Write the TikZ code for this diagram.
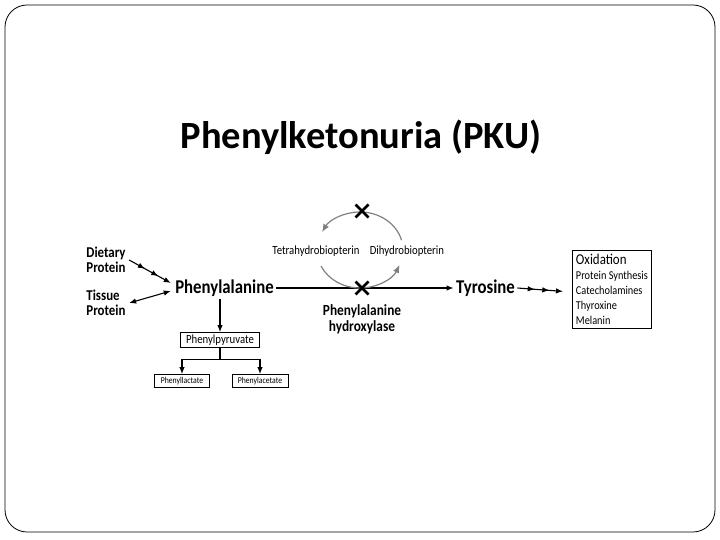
\documentclass[tikz,border=0pt]{standalone}
\usepackage{fontspec}
\setmainfont{Carlito}
\newfontfamily\condfont[FakeStretch=0.86]{Carlito}
\usetikzlibrary{arrows.meta,decorations.markings}

\begin{document}
\begin{tikzpicture}[
		x=1pt, y=-1pt,
		line width=1.1pt,
		labelfont/.style={font=\condfont\bfseries\fontsize{15}{15}\selectfont, align=left, inner sep=1pt},
		mainfont/.style={font=\condfont\bfseries\fontsize{19.5}{20}\selectfont, inner sep=2pt},
		smallfont/.style={font=\condfont\fontsize{12.5}{13}\selectfont, inner sep=1pt},
		boxnode/.style={draw, line width=0.8pt, inner sep=2pt},
		arr/.style={-{Latex[length=7pt,width=5.5pt]}},
		multiarr/.style={arr, postaction={decorate}, decoration={markings,
			mark=at position 0.38 with {\arrow{Latex[length=7pt,width=5.5pt]}},
			mark=at position 0.70 with {\arrow{Latex[length=7pt,width=5.5pt]}}}},
		cyclearc/.style={draw=gray, line width=1.2pt},
		xmark/.style={line width=2.6pt}
	]
	\useasboundingbox (0, 0) rectangle (720, 540);
	% 外框和标题
	\draw[line width=0.8pt, rounded corners=22pt] (5, 5) rectangle (715, 532);
	\node[font=\bfseries\fontsize{38.5}{40}\selectfont] (title) at (361, 137) {Phenylketonuria (PKU)};

	% 左边的来源和苯丙氨酸
	\node[labelfont] (diet) at (106, 260) {Dietary\\Protein};
	\node[labelfont] (tissue) at (106, 303) {Tissue\\Protein};
	\node[mainfont] (phe) at (224.5, 288) {Phenylalanine};
	\draw[multiarr] ([xshift=2pt]diet.east) -- ([xshift=-2pt, yshift=5pt]phe.west);
	\draw[{Latex[length=7pt,width=5.5pt]}-{Latex[length=7pt,width=5.5pt]}] ([xshift=2pt]tissue.east) -- ([xshift=-2pt, yshift=-3pt]phe.west);

	% 酪氨酸和去向
	\node[mainfont] (tyr) at (485.5, 288) {Tyrosine};
	\node[boxnode, anchor=north west, align=left, minimum width=79pt, minimum height=78pt, inner sep=1.5pt,
		font=\condfont\fontsize{12}{14.8}\selectfont] (fates) at (572, 250)
		{{\fontsize{15}{14.8}\selectfont Oxidation}\\Protein Synthesis\\Catecholamines\\Thyroxine\\Melanin};
	\draw[arr] (phe.east) -- (tyr.west);
	\draw[multiarr] (tyr.east) -- ([xshift=-9pt, yshift=-2pt]fates.west);

	% 辅酶循环
	\coordinate (cyc) at (360, 250);
	\draw[cyclearc, -{Latex[length=8pt,width=6.5pt]}] (cyc) ++(-90:43 and 38) arc[start angle=-90, end angle=-152, x radius=43, y radius=38];
	\draw[cyclearc] (cyc) ++(-205:43 and 38) arc[start angle=-205, end angle=-270, x radius=43, y radius=38];
	\draw[cyclearc, -{Latex[length=8pt,width=6.5pt]}] (cyc) ++(-270:43 and 38) arc[start angle=-270, end angle=-337, x radius=43, y radius=38];
	\draw[cyclearc] (cyc) ++(-15:43 and 38) arc[start angle=-15, end angle=-90, x radius=43, y radius=38];
	\node[smallfont] (thb) at (316, 251) {Tetrahydrobiopterin};
	\node[smallfont] (dhb) at (407, 251) {Dihydrobiopterin};

	% 两个叉号和酶
	\coordinate (xtop) at (362, 211);
	\coordinate (xbot) at (362, 288);
	\foreach \c in {xtop, xbot} {
		\draw[xmark] ([xshift=-6.5pt, yshift=6.5pt]\c) -- ([xshift=6.5pt, yshift=-6.5pt]\c);
		\draw[xmark] ([xshift=-6.5pt, yshift=-6.5pt]\c) -- ([xshift=6.5pt, yshift=6.5pt]\c);
	}
	\node[labelfont, align=center, font=\condfont\bfseries\fontsize{15.5}{16}\selectfont] (enz) at (362, 319) {Phenylalanine\\hydroxylase};

	% 苯丙酮酸及其产物
	\node[boxnode, minimum width=79pt, minimum height=15pt, font=\condfont\fontsize{12.5}{13}\selectfont] (pyr) at (220, 340) {Phenylpyruvate};
	\node[boxnode, minimum width=55pt, minimum height=13pt, font=\condfont\fontsize{9}{10}\selectfont] (lac) at (182, 381) {Phenyllactate};
	\node[boxnode, minimum width=56pt, minimum height=13pt, font=\condfont\fontsize{9}{10}\selectfont] (ace) at (260, 381) {Phenylacetate};
	\draw[arr] (pyr.north |- phe.south) -- (pyr.north);
	\draw (pyr.south) -- ++(0, 12) coordinate (split);
	\draw[arr] (split) -| (lac.north);
	\draw[arr] (split) -| (ace.north);
\end{tikzpicture}
\end{document}
